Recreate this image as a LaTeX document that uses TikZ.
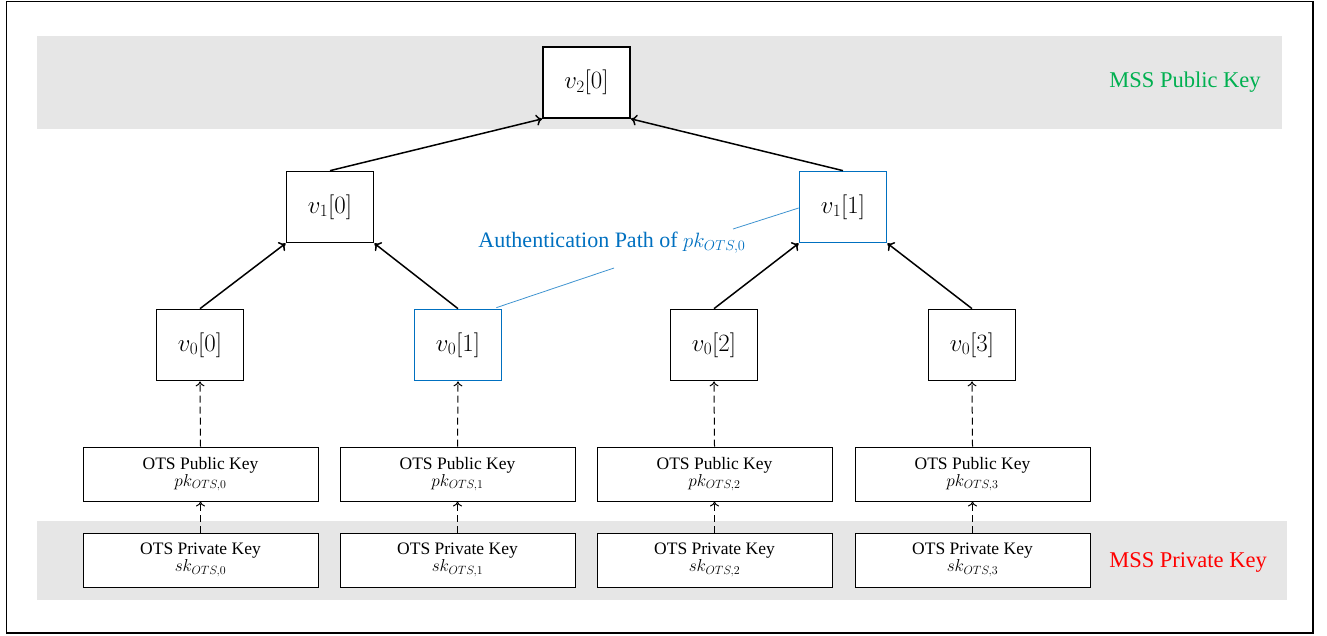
\documentclass[tikz,border=0pt]{standalone}
\usepackage{fontspec}
\setmainfont{Liberation Serif}
\usetikzlibrary{arrows.meta}
\definecolor{bandgray}{HTML}{E6E6E6}
\definecolor{pathblue}{HTML}{0070C0}
\definecolor{pubgreen}{HTML}{00B050}
\tikzset{
  vnode/.style={draw=black, line width=1.7pt, fill=white, minimum width=87pt, minimum height=71pt, inner sep=0pt, font=\fontsize{27}{31}\selectfont},
  vblue/.style={vnode, draw=pathblue},
  keybox/.style={draw=black, line width=0.9pt, fill=white, minimum width=235pt, minimum height=54pt, inner sep=0pt, align=center, font=\fontsize{17.5}{20}\selectfont},
  treearrow/.style={line width=1.5pt, -{To[length=6pt,width=11pt]}},
  keyarrow/.style={line width=1pt, dash pattern=on 7pt off 4pt, -{To[length=5pt,width=9pt]}},
  callout/.style={draw=pathblue!75, line width=0.8pt},
  bandlabel/.style={font=\fontsize{22.5}{26}\selectfont, anchor=center}
}
\begin{document}
\begin{tikzpicture}[x=1pt, y=-1pt]
  \useasboundingbox (0,0) rectangle (1327,635);
  % outer frame
  \draw[line width=1.6pt] (6.5,1.5) rectangle (1313,633);
  % shaded bands for the public and private key levels
  \fill[bandgray] (37,36) rectangle (1282,129);
  \fill[bandgray] (37,521) rectangle (1287,600);
  \node[bandlabel, text=pubgreen] (publabel) at (1185,82) {MSS Public Key};
  \node[bandlabel, text=red] (privlabel) at (1188,562) {MSS Private Key};

  % Merkle tree nodes
  \node[vnode] (v20) at (586.5,82.5) {$v_2[0]$};
  \node[vnode] (v10) at (330,207) {$v_1[0]$};
  \node[vblue] (v11) at (843,207) {$v_1[1]$};
  \node[vnode] (v00) at (200,345) {$v_0[0]$};
  \node[vblue] (v01) at (458,345) {$v_0[1]$};
  \node[vnode] (v02) at (714,345) {$v_0[2]$};
  \node[vnode] (v03) at (972,345) {$v_0[3]$};

  % one-time signature key pairs
  \foreach \i/\x in {0/200.5,1/457.5,2/714.5,3/972.5}{
    \node[keybox] (pk\i) at (\x,474) {OTS Public Key\\[-3pt]$pk_{OTS,\i}$};
    \node[keybox] (sk\i) at (\x,560) {OTS Private Key\\[-3pt]$sk_{OTS,\i}$};
    \draw[keyarrow] (sk\i.north) -- (pk\i.south);
    \draw[keyarrow] (pk\i.north) -- (v0\i.south);
  }

  % hashing edges
  \draw[treearrow] (v10.north) -- (v20.south west);
  \draw[treearrow] (v11.north) -- (v20.south east);
  \draw[treearrow] (v00.north) -- (v10.south west);
  \draw[treearrow] (v01.north) -- (v10.south east);
  \draw[treearrow] (v02.north) -- (v11.south west);
  \draw[treearrow] (v03.north) -- (v11.south east);

  % authentication path annotation
  \node[text=pathblue, font=\fontsize{22}{26}\selectfont] (authlabel) at (612,243) {Authentication Path of $pk_{OTS,0}$};
  \coordinate (calloutA) at (614,268);
  \coordinate (calloutB) at (733,229);
  \draw[callout] (v01.north east) ++(-6,-1) coordinate (v01tip) -- (calloutA);
  \draw[callout] (calloutB) -- (v11.west |- 0,208) coordinate (v11tip);
\end{tikzpicture}
\end{document}
